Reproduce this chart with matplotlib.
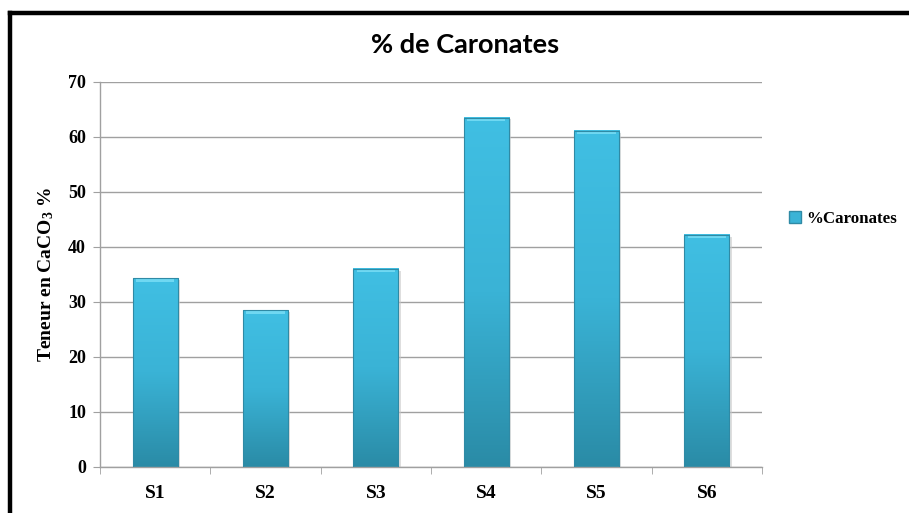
import matplotlib
matplotlib.use('Agg')
import matplotlib.pyplot as plt
import numpy as np
from matplotlib.colors import LinearSegmentedColormap
from matplotlib.lines import Line2D
from matplotlib.patches import Rectangle

categories = ['S1', 'S2', 'S3', 'S4', 'S5', 'S6']
carbonates = [34.3, 28.5, 36.0, 63.5, 61.1, 42.2]
yticks = [0, 10, 20, 30, 40, 50, 60, 70]

plt.rcParams['mathtext.fontset'] = 'custom'
plt.rcParams['mathtext.rm'] = 'Liberation Serif:bold'
plt.rcParams['mathtext.bf'] = 'Liberation Serif:bold'
plt.rcParams['mathtext.default'] = 'bf'

fig = plt.figure(figsize=(9.09, 5.13), dpi=100)
ax = fig.add_axes([0.110, 0.0897, 0.7283, 0.7505])

cmap = LinearSegmentedColormap.from_list('bar', ['#2A8BA6', '#3AB3D6', '#40BFE3'])
grad = np.linspace(0, 1, 256).reshape(-1, 1)
w = 0.41
x = np.arange(len(categories))

ax.bar(x, carbonates, width=w, color='none', edgecolor='#2F8AA5', linewidth=0.8, zorder=3)
for xi, v in zip(x, carbonates):
    # soft shadow on the right
    ax.add_patch(Rectangle((xi - w / 2 + 0.02, 0), w, v - 0.3, facecolor='#c8c8c8', edgecolor='none',
                           alpha=0.6, zorder=2))
    ax.imshow(grad, extent=[xi - w / 2, xi + w / 2, 0, v], origin='lower', cmap=cmap,
              aspect='auto', zorder=2.5)
    # bevel highlight on top
    ax.add_patch(Rectangle((xi - w / 2 + 0.03, v - 0.6), w - 0.06, 0.6, facecolor='#6FD8F2',
                           edgecolor='none', zorder=2.6))

ax.set_xlim(-0.5, len(categories) - 0.5)
ax.set_ylim(0, 70)
ax.set_yticks(yticks)
ax.set_xticks(x)
ax.set_xticklabels(categories, fontsize=14, fontweight='bold', family='Liberation Serif')
ax.set_xticks(np.arange(-0.5, len(categories)), minor=True)
ax.tick_params(axis='x', which='major', length=0, pad=13)
ax.tick_params(axis='x', which='minor', length=5, color='#A0A0A0', direction='out')
ax.tick_params(axis='y', length=5, color='#A0A0A0', pad=5)
for lab in ax.get_yticklabels():
    lab.set_fontsize(13)
    lab.set_fontweight('bold')
    lab.set_family('Liberation Serif')

ax.grid(axis='y', color='#A0A0A0', linewidth=1, zorder=0)
ax.set_axisbelow(True)
for s in ['top', 'right']:
    ax.spines[s].set_visible(False)
for s in ['left', 'bottom']:
    ax.spines[s].set_color('#A0A0A0')
    ax.spines[s].set_linewidth(1)

ax.set_ylabel(r'Teneur en CaCO$_3$ %', fontsize=14, fontweight='bold', family='Liberation Serif')
ax.yaxis.set_label_coords(-0.066, 0.5)

fig.text(0.512, 0.912, '% de Caronates', ha='center', va='center', fontsize=19.5, fontweight='bold',
         family='Lato')

handle = Rectangle((0, 0), 1, 1, facecolor='#3AB3D6', edgecolor='#2F8AA5')
fig.legend([handle], ['%Caronates'], loc='center left', bbox_to_anchor=(0.851, 0.573),
           frameon=False, handlelength=0.7, handleheight=0.7, handletextpad=0.3,
           prop={'family': 'Liberation Serif', 'weight': 'bold', 'size': 12.2})

# frame lines (top and left only)
fig.add_artist(Line2D([10 / 909, 1], [1 - 13 / 513, 1 - 13 / 513], color='black', linewidth=3.2,
                      transform=fig.transFigure))
fig.add_artist(Line2D([10 / 909, 10 / 909], [0, 1 - 13 / 513], color='black', linewidth=3.2,
                      transform=fig.transFigure))

fig.savefig('out.png', dpi=100)
